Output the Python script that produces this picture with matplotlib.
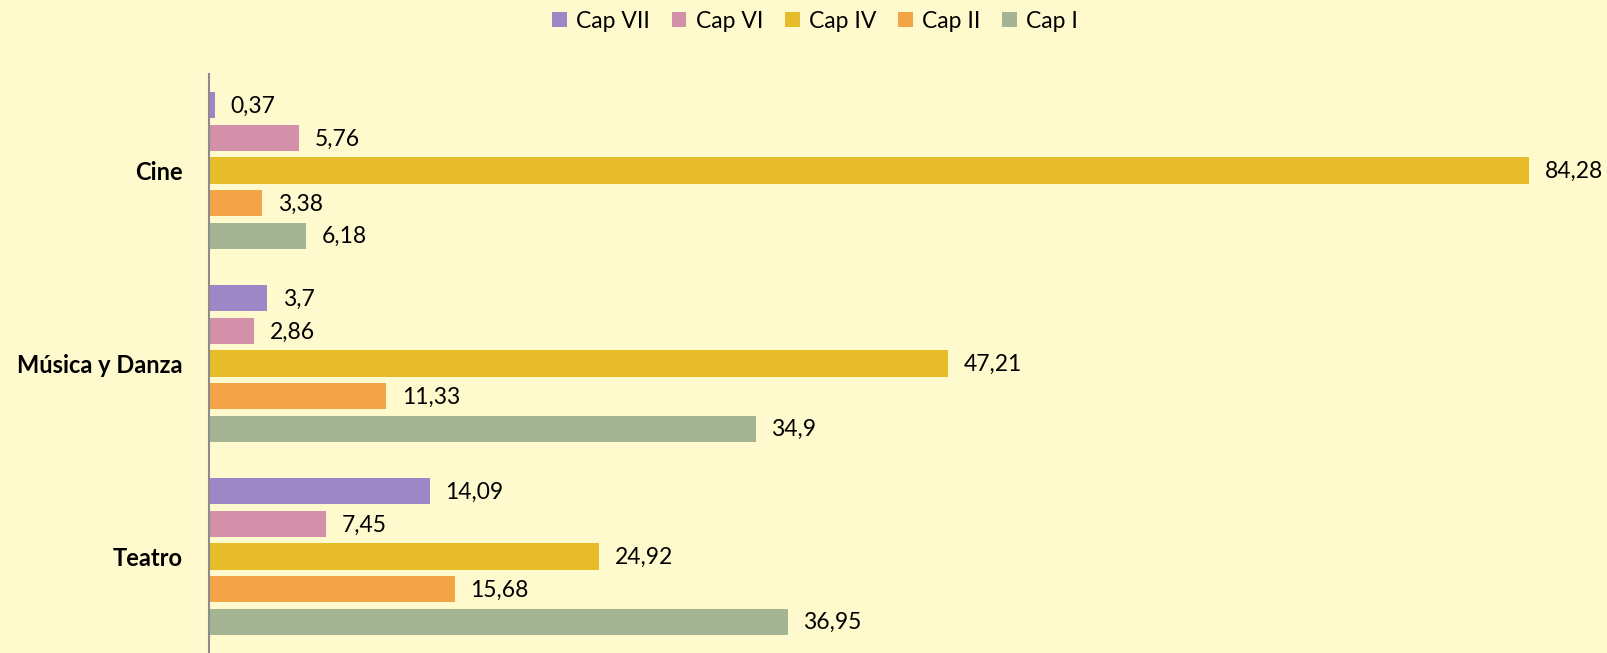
import matplotlib
matplotlib.use('Agg')
import matplotlib.pyplot as plt
import numpy as np

plt.rcParams['font.family'] = ['Lato', 'DejaVu Sans']

# datos
categorias = ['Cine', 'Música y Danza', 'Teatro']
series = ['Cap VII', 'Cap VI', 'Cap IV', 'Cap II', 'Cap I']
cap_vii = [0.37, 3.7, 14.09]
cap_vi = [5.76, 2.86, 7.45]
cap_iv = [84.28, 47.21, 24.92]
cap_ii = [3.38, 11.33, 15.68]
cap_i = [6.18, 34.9, 36.95]
colores = ['#9D87C7', '#D291A8', '#E6BC2A', '#F2A447', '#A5B492']

valores = [cap_vii, cap_vi, cap_iv, cap_ii, cap_i]
fondo = '#FFFACD'

fig = plt.figure(figsize=(16.08, 6.53), dpi=100, facecolor=fondo)
ax = fig.add_axes([209/1608, 0, 1 - 209/1608, (653-74)/653])
ax.set_facecolor(fondo)

y = np.arange(len(categorias))
paso = 0.169
alto = 0.135
handles = []
for k, (nombre, vals, c) in enumerate(zip(series, valores, colores)):
    pos = y + (k - 2) * paso
    b = ax.barh(pos, vals, height=alto, color=c, label=nombre)
    handles.append(b)
    for p, v in zip(pos, vals):
        ax.text(v + 1.0, p + 0.005, str(v).replace('.', ','), va='center', ha='left',
                fontsize=16.5, color='black')

ax.set_ylim(2.5, -0.5)
ax.set_xlim(0, (1608-209)/15.66)
ax.set_yticks(y)
ax.set_yticklabels(categorias, fontsize=17, fontweight='bold')
ax.tick_params(axis='y', length=0, pad=19)
ax.set_xticks([])
for s in ['top', 'right', 'bottom']:
    ax.spines[s].set_visible(False)
ax.spines['left'].set_color('#8C8C8C')
ax.spines['left'].set_linewidth(1.5)

fig.legend(handles=handles, labels=series, loc='upper center', ncol=5,
           bbox_to_anchor=(815/1608, 1.015), frameon=False, fontsize=16.5,
           handlelength=0.65, handleheight=0.65, handletextpad=0.4, columnspacing=0.95)

fig.savefig('out.png', dpi=100, facecolor=fondo)
